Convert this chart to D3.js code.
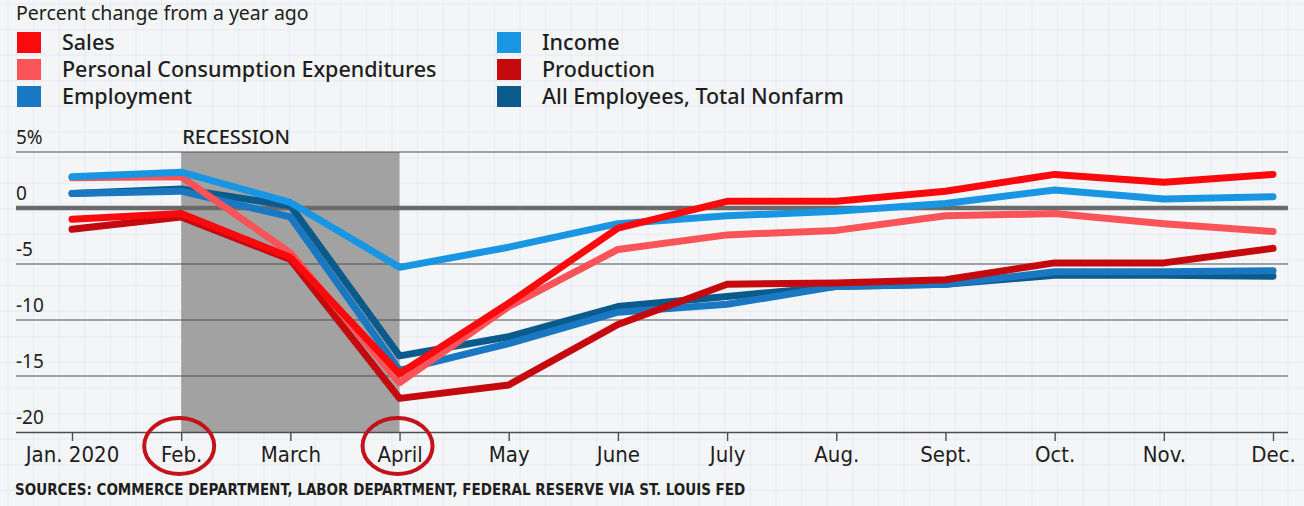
<!DOCTYPE html>
<html>
<head>
<meta charset="utf-8">
<script src="https://cdn.jsdelivr.net/npm/d3@7"></script>
<style>
  html, body { margin: 0; padding: 0; background: #f4f5f7; }
  svg { display: block; }
</style>
</head>
<body>
<svg id="chart" width="1304" height="506"></svg>
<script>
const months = [`Jan. 2020`, `Feb.`, `March`, `April`, `May`, `June`, `July`, `Aug.`, `Sept.`, `Oct.`, `Nov.`, `Dec.`];
const yTicks = [5, 0, -5, -10, -15, -20];

// percent change from a year ago
const sales       = [-1.0, -0.5, -4.4, -14.8, -8.5, -1.8, 0.6, 0.6, 1.5, 3.0, 2.3, 3.0];
const pce         = [2.7, 2.8, -4.0, -15.6, -8.8, -3.7, -2.4, -2.0, -0.7, -0.5, -1.4, -2.1];
const employment  = [1.3, 1.5, -0.8, -14.5, -12.1, -9.3, -8.6, -7.0, -6.8, -5.7, -5.7, -5.6];
const income      = [2.8, 3.2, 0.5, -5.3, -3.5, -1.4, -0.7, -0.3, 0.4, 1.6, 0.8, 1.0];
const production  = [-1.9, -0.8, -4.6, -17.0, -15.8, -10.4, -6.8, -6.7, -6.4, -4.9, -4.9, -3.6];
const nonfarm     = [1.3, 1.7, 0.2, -13.2, -11.5, -8.8, -7.9, -7.0, -6.8, -6.0, -6.0, -6.1];

const series = [
    { name: `All Employees, Total Nonfarm`, color: `#0b5a8c`, values: nonfarm },
    { name: `Employment`, color: `#1a78c2`, values: employment },
    { name: `Production`, color: `#c40a0e`, values: production },
    { name: `Personal Consumption Expenditures`, color: `#fb5458`, values: pce },
    { name: `Income`, color: `#1896e4`, values: income },
    { name: `Sales`, color: `#fa0a0c`, values: sales },
];
const legendOrder = [`Sales`, `Personal Consumption Expenditures`, `Employment`, `Income`, `Production`, `All Employees, Total Nonfarm`];

const recession = [`Feb.`, `April`];
const circled = [`Feb.`, `April`];

const width = 1304;
const height = 506;
const font = `'Noto Sans', 'Open Sans', sans-serif`;
const narrow = `'Liberation Sans Narrow', 'DejaVu Sans Condensed', sans-serif`;

const svg = d3.select(`#chart`);

// graph paper background
const bg = svg.append(`g`);
bg.append(`rect`).attr(`width`, width).attr(`height`, height).attr(`fill`, `#f4f5f7`);
bg.selectAll(`.vg`)
    .data(d3.range(8, width, 25.6))
    .enter()
    .append(`line`)
    .attr(`x1`, d => d).attr(`x2`, d => d)
    .attr(`y1`, 0).attr(`y2`, height)
    .attr(`stroke`, `#d9e4f1`).attr(`stroke-width`, 1.2).attr(`opacity`, .45);
bg.selectAll(`.hg`)
    .data(d3.range(4, height, 25.6))
    .enter()
    .append(`line`)
    .attr(`x1`, 0).attr(`x2`, width)
    .attr(`y1`, d => d).attr(`y2`, d => d)
    .attr(`stroke`, `#d9e4f1`).attr(`stroke-width`, 1.2).attr(`opacity`, .45);

const xScale = d3.scalePoint()
    .domain(months)
    .range([72, 1273]);

const yScale = d3.scaleLinear()
    .domain([-20, 5])
    .range([432, 152]);

const plotLeft = 16;
const plotRight = 1288;

// recession band
svg.append(`rect`)
    .attr(`x`, xScale(recession[0]))
    .attr(`y`, yScale(5))
    .attr(`width`, xScale(recession[1]) - xScale(recession[0]))
    .attr(`height`, yScale(-20) - yScale(5))
    .attr(`fill`, `#a2a2a2`);

svg.append(`text`)
    .attr(`x`, xScale(recession[0]) + 1)
    .attr(`y`, yScale(5) - 8)
    .attr(`font-family`, font)
    .attr(`font-size`, 20)
    .attr(`font-weight`, 500)
    .attr(`fill`, `#1e1e1e`)
    .text(`RECESSION`);

// gridlines
svg.selectAll(`.grid`)
    .data(yTicks.filter(d => d !== 0 && d !== -20))
    .enter()
    .append(`line`)
    .attr(`x1`, plotLeft).attr(`x2`, plotRight)
    .attr(`y1`, d => yScale(d)).attr(`y2`, d => yScale(d))
    .attr(`stroke`, `#4d4d4d`)
    .attr(`stroke-width`, 1.2);

svg.selectAll(`.ylab`)
    .data(yTicks)
    .enter()
    .append(`text`)
    .attr(`x`, plotLeft)
    .attr(`y`, d => yScale(d) - 8)
    .attr(`font-family`, font)
    .attr(`font-size`, 19)
    .attr(`fill`, `#222`)
    .text(d => d === 5 ? `5%` : d);

// x axis
const xAxis = d3.axisBottom(xScale).tickSize(9).tickPadding(5);
const xg = svg.append(`g`)
    .attr(`transform`, `translate(0, ${yScale(-20)})`)
    .call(xAxis);
xg.select(`.domain`)
    .attr(`d`, `M${plotLeft},0.5H${plotRight}`)
    .attr(`stroke`, `#4d4d4d`)
    .attr(`stroke-width`, 1.4);
xg.selectAll(`.tick line`).attr(`stroke`, `#4d4d4d`).attr(`stroke-width`, 1.4);
xg.selectAll(`.tick text`)
    .attr(`font-family`, narrow)
    .attr(`font-size`, 22)
    .attr(`fill`, `#1e1e1e`);

// zero line
svg.append(`line`)
    .attr(`x1`, plotLeft).attr(`x2`, plotRight)
    .attr(`y1`, yScale(0)).attr(`y2`, yScale(0))
    .attr(`stroke`, `#6a6a6a`)
    .attr(`stroke-width`, 4.5);

// lines
const line = d3.line()
    .x((d, i) => xScale(months[i]))
    .y(d => yScale(d));

svg.selectAll(`.series`)
    .data(series)
    .enter()
    .append(`path`)
    .attr(`d`, d => line(d.values))
    .attr(`fill`, `none`)
    .attr(`stroke`, d => d.color)
    .attr(`stroke-width`, 7)
    .attr(`stroke-linejoin`, `round`)
    .attr(`stroke-linecap`, `round`);

// circled months
svg.selectAll(`.circ`)
    .data(circled)
    .enter()
    .append(`ellipse`)
    .attr(`cx`, d => xScale(d) - 2)
    .attr(`cy`, 446)
    .attr(`rx`, 35)
    .attr(`ry`, 28)
    .attr(`fill`, `none`)
    .attr(`stroke`, `#c3121a`)
    .attr(`stroke-width`, 4);

// title and legend
svg.append(`text`)
    .attr(`x`, 16)
    .attr(`y`, 20)
    .attr(`font-family`, font)
    .attr(`font-size`, 19.5)
    .attr(`fill`, `#1e1e1e`)
    .text(`Percent change from a year ago`);

const colorOf = name => series.find(s => s.name === name).color;
const legend = svg.selectAll(`.legend`)
    .data(legendOrder)
    .enter()
    .append(`g`)
    .attr(`transform`, (d, i) => `translate(${i < 3 ? 17 : 497}, ${32 + (i % 3) * 27})`);
legend.append(`rect`)
    .attr(`width`, 24)
    .attr(`height`, 21)
    .attr(`fill`, d => colorOf(d));
legend.append(`text`)
    .attr(`x`, 45)
    .attr(`y`, 18)
    .attr(`font-family`, font)
    .attr(`font-size`, 21.5)
    .attr(`font-weight`, 500)
    .attr(`fill`, `#1e1e1e`)
    .text(d => d);

svg.append(`text`)
    .attr(`x`, 15)
    .attr(`y`, 495)
    .attr(`font-family`, narrow)
    .attr(`font-size`, 15)
    .attr(`font-weight`, 700)
    .attr(`fill`, `#1e1e1e`)
    .text(`SOURCES: COMMERCE DEPARTMENT, LABOR DEPARTMENT, FEDERAL RESERVE VIA ST. LOUIS FED`);
</script>
</body>
</html>
